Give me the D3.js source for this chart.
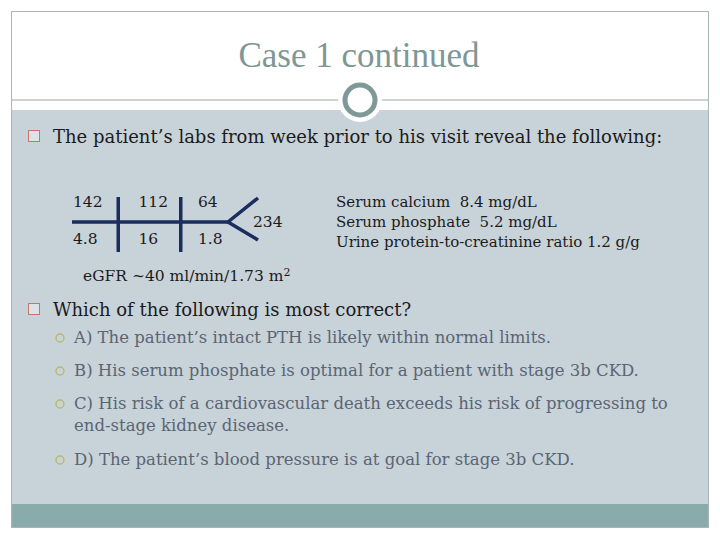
<!DOCTYPE html>
<html>
<head>
<meta charset="utf-8">
<script src="https://cdn.jsdelivr.net/npm/d3@7"></script>
<style>
  body { margin: 0; background: #fff; }
  text { font-family: "DejaVu Serif", serif; }
</style>
</head>
<body>
<svg id="slide" width="720" height="540"></svg>
<script>
// slide content
const TITLE = "Case 1 continued";
const HEAD1 = "The patient\u2019s labs from week prior to his visit reveal the following:";
const TOP_VALS = ["142", "112", "64"];
const BOT_VALS = ["4.8", "16", "1.8"];
const GLUCOSE = "234";
const EXTRA_LABS = ["Serum calcium  8.4 mg/dL", "Serum phosphate  5.2 mg/dL", "Urine protein-to-creatinine ratio 1.2 g/g"];
const HEAD2 = "Which of the following is most correct?";
const OPTIONS = [
  ["A) The patient\u2019s intact PTH is likely within normal limits."],
  ["B) His serum phosphate is optimal for a patient with stage 3b CKD."],
  ["C) His risk of a cardiovascular death exceeds his risk of progressing to", "end-stage kidney disease."],
  ["D) The patient\u2019s blood pressure is at goal for stage 3b CKD."]
];

const svg = d3.select('#slide');

// frame + body background
svg.append('rect').attr('x', 11.5).attr('y', 11.5).attr('width', 697).attr('height', 516)
  .attr('fill', '#fff').attr('stroke', '#a9b6b6');
svg.append('rect').attr('x', 12).attr('y', 110).attr('width', 696).attr('height', 394).attr('fill', '#c8d2d9');
svg.append('rect').attr('x', 12).attr('y', 504).attr('width', 696).attr('height', 23).attr('fill', '#8aabab');
svg.append('line').attr('x1', 12).attr('x2', 708).attr('y1', 100).attr('y2', 100)
  .attr('stroke', '#9aa8a8').attr('stroke-width', 1);
svg.append('circle').attr('cx', 360).attr('cy', 100).attr('r', 22).attr('fill', '#fff');
svg.append('circle').attr('cx', 360).attr('cy', 100).attr('r', 15)
  .attr('fill', '#fff').attr('stroke', '#7f9898').attr('stroke-width', 5);

svg.append('text').attr('x', 359).attr('y', 67).attr('text-anchor', 'middle')
  .style('font-family', '"Liberation Serif", serif')
  .style('font-size', '35px').attr('fill', '#7f9696').text(TITLE);

// headings with square bullets
let heading = (y, txt) => {
  svg.append('rect').attr('x', 28.5).attr('y', y - 12.5).attr('width', 11).attr('height', 11)
    .attr('fill', '#dde2e6').attr('stroke', '#c0786a').attr('stroke-width', 1);
  svg.append('text').attr('x', 53).attr('y', y).style('font-size', '18px').attr('fill', '#1b1b1b').text(txt);
};
heading(143, HEAD1);
heading(316, HEAD2);

// fishbone labs diagram
const x = d3.scalePoint().domain(d3.range(TOP_VALS.length)).range([73, 198]);
const bone = svg.append('g').attr('stroke', '#1a2d5e').attr('stroke-width', 3.5).attr('fill', 'none');
bone.append('line').attr('x1', 72).attr('x2', 228).attr('y1', 222).attr('y2', 222);
d3.range(1, TOP_VALS.length).forEach(i => {
  let lx = (x(i - 1) + x(i)) / 2 + 14;
  bone.append('line').attr('x1', lx).attr('x2', lx).attr('y1', 197).attr('y2', 252);
});
bone.append('polyline').attr('points', '258,198 228,222 258,240');

svg.selectAll('.topv').data(TOP_VALS).enter().append('text')
  .attr('x', (d, i) => x(i) + (i == 1 ? 3 : 0)).attr('y', 207).style('font-size', '15.5px').attr('fill', '#1b1b1b').text(d => d);
svg.selectAll('.botv').data(BOT_VALS).enter().append('text')
  .attr('x', (d, i) => x(i) + (i == 1 ? 3 : 0)).attr('y', 244).style('font-size', '15.5px').attr('fill', '#1b1b1b').text(d => d);
svg.append('text').attr('x', 253).attr('y', 227).style('font-size', '15.5px').attr('fill', '#1b1b1b').text(GLUCOSE);

svg.selectAll('.extra').data(EXTRA_LABS).enter().append('text')
  .attr('x', 336).attr('y', (d, i) => 207 + i * 20).style('font-size', '15px').attr('fill', '#1b1b1b')
  .attr('xml:space', 'preserve').text(d => d);

svg.append('text').attr('x', 83).attr('y', 281).style('font-size', '15.5px').attr('fill', '#1b1b1b')
  .html('eGFR ~40 ml/min/1.73 m<tspan font-size="11" dy="-5">2</tspan>');

// answer options
const optY = [343, 376, 409, 465];
OPTIONS.forEach((lines, i) => {
  svg.append('circle').attr('cx', 60).attr('cy', optY[i] - 5).attr('r', 4)
    .attr('fill', 'none').attr('stroke', '#b9b868').attr('stroke-width', 1.3);
  lines.forEach((ln, j) => {
    svg.append('text').attr('x', 74).attr('y', optY[i] + j * 22).style('font-size', '16.5px')
      .attr('fill', '#5a6573').text(ln);
  });
});
</script>
</body>
</html>
